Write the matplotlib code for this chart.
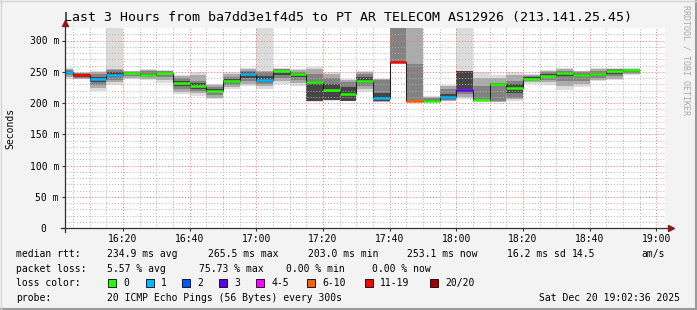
import numpy as np
import matplotlib.pyplot as plt
from matplotlib.lines import Line2D
from matplotlib.patches import Rectangle

plt.rcParams['font.family'] = ['DejaVu Sans Mono']

title = "Last 3 Hours from ba7dd3e1f4d5 to PT AR TELECOM AS12926 (213.141.25.45)"
graph_start = "16:02:36"
graph_end = "19:02:36"
first_step_end = "16:05:00"
step_minutes = 5

# median rtt (ms) per 5 minute step, and lost pings out of 20
median_rtt = [249.5, 244.7, 237.8, 244.7, 248.5, 244.7, 247.9,
              232.5, 226.6, 219.2, 235.1, 246.6, 236.2, 251.0,
              245.8, 233.5, 221.3, 213.9, 234.6, 207.5, 265.5,
              203.2, 203.8, 209.1, 220.2, 204.3, 230.3, 223.4,
              238.3, 243.7, 247.9, 245.3, 246.3, 251.1, 252.2]
lost_pings = [1, 12, 1, 1, 0, 0, 0,
              0, 0, 0, 0, 1, 1, 0,
              0, 0, 0, 0, 0, 1, 15,
              8, 0, 1, 3, 0, 0, 0,
              0, 0, 0, 0, 0, 0, 0]

# smoke: spread of the 20 pings per step (ms), outer to inner
ping_min = [239, 237.8, 219, 229, 238, 237, 232,
            214, 212, 206, 222, 227, 223, 231,
            228, 201.6, 204, 202.7, 217.6, 201.6, 265.5,
            203, 201.6, 202.7, 207, 202.7, 201.6, 203,
            231, 229.4, 220.2, 225.5, 234.6, 236.2, 244.2]
ping_max = [256, 249.5, 251, 330, 251, 254, 253,
            245, 249.5, 231, 249.5, 256, 330, 256,
            255, 257.5, 249.5, 239, 250.6, 239, 330,
            330, 211, 229, 330, 249.5, 245.3, 249.5,
            247, 252, 256.5, 252, 255.8, 255.8, 255.8]
ping_p10 = [242, 239, 224, 233, 240, 239, 237,
            217, 216, 208, 226, 231, 228, 235,
            232, 204, 204.5, 203, 222, 202, 265.5,
            203, 202, 204, 210, 203, 202, 206,
            233, 233, 228, 231, 237, 239, 246]
ping_p90 = [255, 248.5, 249, 255, 250.5, 253, 252,
            243, 245, 229, 246, 254, 251, 255,
            253, 255, 247, 237, 249, 238, 330,
            330, 210, 227, 252, 240, 240, 245,
            245.5, 251, 255, 251, 254, 255, 255]
ping_p25 = [245, 240, 229, 237, 244, 242, 242,
            222, 219, 213, 229, 235, 231, 240,
            237, 206, 205, 203.5, 228, 202.5, 265.5,
            203, 202.5, 205, 214, 203, 203, 208,
            235, 237, 236, 236, 240, 243, 248]
ping_p75 = [253, 248, 247, 253, 250, 251, 251,
            240, 236, 226, 242, 251, 249, 254,
            250, 246, 240, 234, 247, 237, 330,
            263, 208, 222, 252, 228, 231, 236,
            244, 249, 252, 249, 251, 254, 254.5]
ping_p40 = [248, 241, 234, 241, 247.5, 244, 246,
            228, 222, 217, 232, 240, 234, 245,
            242, 204, 205.5, 204, 232, 203, 265.5,
            203, 203, 207, 222, 203.5, 229, 216,
            237, 241, 243, 241, 243, 247, 250]
ping_p60 = [251, 247, 242, 249, 249, 247, 249,
            236, 232, 223, 239, 249, 243, 252,
            248, 236, 231, 226, 242, 216, 265.5,
            203, 205, 214, 251, 205, 232, 230,
            241, 246, 250, 247, 248, 253, 253.5]

loss_labels = ["0", "1", "2", "3", "4-5", "6-10", "11-19", "20/20"]
loss_upper = [0, 1, 2, 3, 5, 10, 19, 20]
loss_colors = ['#26ff00', '#00b8ff', '#0059ff', '#5e00ff',
               '#ff00fe', '#ff5e00', '#ff0000', '#a10000']

x_tick_labels = ["16:20", "16:40", "17:00", "17:20", "17:40",
                 "18:00", "18:20", "18:40", "19:00"]
y_tick_values = [0, 50, 100, 150, 200, 250, 300]
y_tick_labels = ["0  ", "50 m", "100 m", "150 m", "200 m", "250 m", "300 m"]

rtt_stats = ["234.9 ms avg", "265.5 ms max", "203.0 ms min",
             "253.1 ms now", "16.2 ms sd", "14.5", "am/s"]
loss_stats = ["5.57 % avg", "75.73 % max", "0.00 % min", "0.00 % now"]
probe_text = "20 ICMP Echo Pings (56 Bytes) every 300s"
stamp_text = "Sat Dec 20 19:02:36 2025"


def minutes(s):
    # minutes after 16:00
    parts = [int(p) for p in s.split(':')]
    if len(parts) == 2:
        parts.append(0)
    return (parts[0] - 16) * 60 + parts[1] + parts[2] / 60.0


n = len(median_rtt)
t0 = minutes(graph_start)
t1 = minutes(graph_end)
first = minutes(first_step_end)
edges = np.array([t0] + [first + i * step_minutes for i in range(n)])
left = edges[:-1]
width = np.diff(edges)

W, H = 697, 310
fig = plt.figure(figsize=(W / 100, H / 100), dpi=100, facecolor='#f3f3f3')
ax = fig.add_axes([65 / W, 82 / H, 600 / W, 200 / H])
ax.set_facecolor('white')
for s in ax.spines.values():
    s.set_visible(False)

# smoke, outer pair lightest
bands = [(ping_min, ping_max, '#dcdcdc'),
         (ping_p10, ping_p90, '#ababab'),
         (ping_p25, ping_p75, '#828282'),
         (ping_p40, ping_p60, '#454545')]
for lo, hi, c in bands:
    lo = np.array(lo, float)
    hi = np.array(hi, float)
    ax.bar(left, hi - lo, width=width, bottom=lo, align='edge',
           color=c, linewidth=0, zorder=1)

# median line and loss coloured steps
ax.stairs(median_rtt, edges, baseline=None, color='#202020', lw=0.8, zorder=3)
seg_colors = []
for lp in lost_pings:
    for up, c in zip(loss_upper, loss_colors):
        if lp <= up:
            seg_colors.append(c)
            break
ax.hlines(median_rtt, left, edges[1:], colors=seg_colors, lw=1.8,
          capstyle='butt', zorder=4)

ax.set_xlim(t0, t1)
ax.set_ylim(0, 320)

ax.set_xticks([minutes(l) for l in x_tick_labels])
ax.set_xticklabels(x_tick_labels)
ax.set_xticks(np.arange(5, t1, 5), minor=True)
ax.set_yticks(y_tick_values)
ax.set_yticklabels(y_tick_labels)
ax.set_yticks(np.arange(10, 320, 10), minor=True)

ax.set_axisbelow(False)
ax.grid(which='minor', color=(0.7, 0.7, 0.7, 0.55), lw=0.7, ls=(0, (1, 2)))
ax.grid(which='major', color=(1.0, 0.45, 0.45, 0.55), lw=0.7, ls=(0, (1, 2)))
ax.tick_params(which='minor', length=0)
ax.tick_params(which='major', length=2.2, width=0.8, direction='out',
               color='#303030', labelsize=7, labelcolor='black')
ax.tick_params(axis='y', pad=2.2)
ax.tick_params(axis='x', pad=2.0)

# axis lines with arrow heads
ax.add_line(Line2D([-0.007, 1.007], [0, 0], transform=ax.transAxes,
                   color='#303030', lw=0.9, clip_on=False, zorder=5))
ax.add_line(Line2D([0, 0], [-0.02, 1.02], transform=ax.transAxes,
                   color='#303030', lw=0.9, clip_on=False, zorder=5))
ax.plot([0], [1.025], marker='^', ms=4.5, color='#8b1a1a',
        transform=ax.transAxes, clip_on=False, zorder=6)
ax.plot([1.01], [0], marker='>', ms=4.5, color='#8b1a1a',
        transform=ax.transAxes, clip_on=False, zorder=6)

fig.text(0.5, 1 - 18 / H, title, ha='center', va='center', fontsize=9.55)
fig.text(10 / W, 1 - 128 / H, "Seconds", rotation=90, ha='center',
         va='center', fontsize=7)
fig.text(686 / W, 1 - 60 / H, "RRDTOOL / TOBI OETIKER", rotation=270,
         ha='center', va='center', fontsize=6, color='#a8a8a8')


def px_text(x, y, s, **kw):
    fig.text(x / W, 1 - y / H, s, va='center', fontsize=7, **kw)


px_text(16, 254, "median rtt:")
for x, s in zip([107, 208, 308, 407, 507, 572, 641], rtt_stats):
    px_text(x, 254, s)
px_text(16, 269, "packet loss:")
for x, s in zip([107, 199, 286, 372], loss_stats):
    px_text(x, 269, s)
px_text(16, 283, "loss color:")
box_x = [108, 146, 182, 219, 256, 307, 365, 430]
for x, lab, c in zip(box_x, loss_labels, loss_colors):
    fig.patches.append(Rectangle((x / W, 1 - 287 / H), 8 / W, 8 / H,
                                 transform=fig.transFigure, facecolor=c,
                                 edgecolor='black', lw=0.6))
    px_text(x + 15, 283, lab)
px_text(16, 298, "probe:")
px_text(107, 298, probe_text)
px_text(680, 298, stamp_text, ha='right')

# canvas frame
fig.add_artist(Line2D([0, 1], [1.5 / H, 1.5 / H], color='#9a9a9a', lw=1.5))
fig.add_artist(Line2D([1 - 1.5 / W, 1 - 1.5 / W], [0, 1], color='#9a9a9a', lw=1.5))
fig.add_artist(Line2D([0, 1], [1 - 0.5 / H, 1 - 0.5 / H], color='#d6d6d6', lw=1))
fig.add_artist(Line2D([0.5 / W, 0.5 / W], [0, 1], color='#d6d6d6', lw=1))

fig.savefig('out.png', dpi=100, facecolor=fig.get_facecolor())
